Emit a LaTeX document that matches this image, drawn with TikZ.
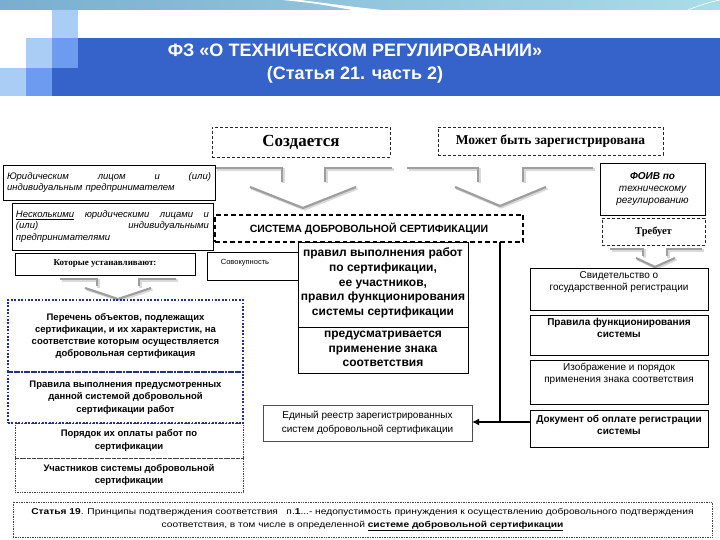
\documentclass[tikz,border=0pt]{standalone}
\usepackage{fontspec}
\setmainfont{Liberation Serif}
\setsansfont{Liberation Sans}
\newfontfamily\wsans[FakeStretch=1.2]{Liberation Sans}
\usetikzlibrary{arrows.meta}
\definecolor{hdrA}{HTML}{79AED0}
\definecolor{hdrB}{HTML}{A9DDE8}
\definecolor{barc}{HTML}{3563C9}
\definecolor{sqL}{HTML}{A9CDF5}
\definecolor{sqM}{HTML}{6C9BEF}
\definecolor{navyc}{HTML}{23308A}
\newcommand\fs[2]{\fontsize{#1}{#2}\selectfont}
\begin{document}
\begin{tikzpicture}[x=1pt,y=-1pt,
  every node/.style={inner sep=0pt, outer sep=0pt},
  nw/.style={anchor=north west, align=center},
  sbox/.style={nw, draw=black, line width=0.9pt, fill=white},
  dbox/.style={nw, draw=black!85, dash pattern=on 3pt off 2pt, line width=0.9pt},
  sysbox/.style={nw, draw=black, dash pattern=on 4.5pt off 3pt, line width=1.7pt},
  navybox/.style={nw, draw=navyc, dash pattern=on 1.8pt off 1.6pt, line width=2pt},
  thindot/.style={nw, draw=black!75, dash pattern=on 0.8pt off 0.9pt, line width=0.6pt},
  chev/.style={draw=black!38, line width=2.2pt},
  chevs/.style={draw=black!15, line width=2.2pt},
  conn/.style={draw=black, line width=2.4pt},
  sans/.style={font=\sffamily\fs{10}{12}},
]
\useasboundingbox (0,0) rectangle (720,540);
\fill[white] (0,0) rectangle (720,540);

% ---------- header ----------
\shade[left color=hdrA, right color=hdrB] (0,0) rectangle (720,10);
\fill[white] (300,0) .. controls (325,3) and (345,6) .. (382,10) -- (352,10) .. controls (330,6) and (315,3) .. (282,0) -- cycle;
\draw[white, line width=0.6pt] (688,10) .. controls (700,5) and (710,2) .. (720,0);
\fill[barc] (52,38) rectangle (720,96);
\fill[sqL] (52,10) rectangle (78,38);
\fill[sqL] (26,38) rectangle (52,68);
\fill[sqM] (52,38) rectangle (78,68);
\fill[sqL] (0,68) rectangle (26,96);
\fill[sqM] (26,68) rectangle (52,96);
\node[font=\sffamily\bfseries\fs{18}{23}, text=white, align=center] (title) at (355,64)
  {ФЗ «О ТЕХНИЧЕСКОМ РЕГУЛИРОВАНИИ»\\(Статья 21. часть 2)};

% ---------- chevrons ----------
\begin{scope}[shift={(1.5,1.5)}]
\draw[chevs] (215,168) -- (282,168) -- (282,182);
\draw[chevs] (325,182) -- (325,168) -- (392,168);
\draw[chevs] (250,187) -- (303,208) -- (356,187);
\draw[chevs] (407,168) -- (478,168) -- (478,182);
\draw[chevs] (523,182) -- (523,168) -- (593,168);
\draw[chevs] (455,187) -- (500,206) -- (546,187);
\draw[chevs] (610,249) -- (643,249) -- (643,256);
\draw[chevs] (667,256) -- (667,249) -- (702,249);
\draw[chevs] (636,258) -- (655,267) -- (675,258);
\draw[chevs] (60,279) -- (97,279) -- (97,286);
\draw[chevs] (139,286) -- (139,279) -- (176,279);
\draw[chevs] (85,288) -- (118,299) -- (151,288);
\end{scope}
\draw[chev] (215,168) -- (282,168) -- (282,182);
\draw[chev] (325,182) -- (325,168) -- (392,168);
\draw[chev] (250,187) -- (303,208) -- (356,187);
\draw[chev] (407,168) -- (478,168) -- (478,182);
\draw[chev] (523,182) -- (523,168) -- (593,168);
\draw[chev] (455,187) -- (500,206) -- (546,187);
\draw[chev] (610,249) -- (643,249) -- (643,256);
\draw[chev] (667,256) -- (667,249) -- (702,249);
\draw[chev] (636,258) -- (655,267) -- (675,258);
\draw[chev] (60,279) -- (97,279) -- (97,286);
\draw[chev] (139,286) -- (139,279) -- (176,279);
\draw[chev] (85,288) -- (118,299) -- (151,288);

% ---------- top boxes ----------
\node[dbox, minimum width=178, minimum height=30, font=\bfseries\fs{17}{20}] (create) at (212,127) {Создается};
\node[dbox, minimum width=225, minimum height=28, font=\bfseries\fs{13.5}{16}] (mayreg) at (438,127) {Может быть зарегистрирована};

% ---------- left upper ----------
\node[sbox, minimum width=212, minimum height=35, text width=204, inner xsep=4pt, align=left,
  font=\sffamily\itshape\fs{9.5}{11.5}] (legal) at (3,165)
  {Юридическим\hfill лицом\hfill и\hfill (или)\\индивидуальным предпринимателем};
\node[sbox, minimum width=201, minimum height=47, text width=193, inner xsep=4pt, align=left,
  font=\sffamily\itshape\fs{9.5}{11.5}] (several) at (12,203)
  {\underline{Несколькими}\hfill юридическими\hfill лицами\hfill и\\(или)\hfill индивидуальными\\предпринимателями};
\node[sbox, minimum width=180, minimum height=22, font=\bfseries\fs{9}{10}] (which) at (15,253) {Которые устанавливают:};

% ---------- system ----------
\node[sysbox, minimum width=308, minimum height=27, font=\sffamily\bfseries\fs{10.5}{12}] (sys) at (215,215)
  {СИСТЕМА ДОБРОВОЛЬНОЙ СЕРТИФИКАЦИИ};
\node[sbox, line width=0.7pt, minimum width=93, minimum height=28] (total) at (207,252) {};
\node[font=\sffamily\fs{7.5}{9}] (totalt) at (245,263) {Совокупность};
\node[sbox, minimum width=170, minimum height=131] (big) at (298,242) {};
\draw[black, line width=0.9pt] (big.west |- 0,327) -- (big.east |- 0,327);
\node[font=\sffamily\bfseries\fs{12}{14.7}, align=center] (bigt) at (383,283)
  {правил выполнения работ\\по сертификации,\\ее участников,\\правил функционирования\\системы сертификации};
\node[font=\sffamily\bfseries\fs{12}{14.5}, align=center] (bigb) at (383,349)
  {предусматривается\\применение знака\\соответствия};

% ---------- left lower ----------
\node[thindot, minimum width=228, minimum height=35, font=\sffamily\bfseries\fs{9.5}{12.5}] (pay) at (15,423)
  {Порядок их оплаты работ по\\сертификации};
\node[thindot, minimum width=228, minimum height=34, font=\sffamily\bfseries\fs{9.5}{12.5}] (parts) at (15,458)
  {Участников системы добровольной\\сертификации};
\node[navybox, minimum width=235, minimum height=72, font=\sffamily\bfseries\fs{9.5}{12}] (list) at (8,300)
  {Перечень объектов, подлежащих\\сертификации, и их характеристик, на\\соответствие которым осуществляется\\добровольная сертификация};
\node[navybox, minimum width=235, minimum height=51, font=\sffamily\bfseries\fs{9.5}{12.5}] (rulesw) at (8,372)
  {Правила выполнения предусмотренных\\данной системой добровольной\\сертификации работ};

% ---------- right column ----------
\node[sbox, minimum width=105, minimum height=52, font=\sffamily\itshape\fs{10}{12}] (foiv) at (600,163)
  {\textbf{ФОИВ по}\\техническому\\регулированию};
\node[dbox, minimum width=103, minimum height=27, font=\bfseries\fs{10.5}{12}] (req) at (602,218) {Требует};
\node[sbox, minimum width=178, minimum height=42] (cert) at (530,268) {};
\node[sans, anchor=north, align=center] (certt) at ([yshift=-4pt]cert.north) {Свидетельство о\\государственной регистрации};
\node[sbox, minimum width=178, minimum height=40] (rules) at (530,315) {};
\node[sans, font=\sffamily\bfseries\fs{10}{12.5}, anchor=north, align=center] (rulest) at ([yshift=-3pt]rules.north) {Правила функционирования\\системы};
\node[sbox, minimum width=178, minimum height=44] (img) at (530,360) {};
\node[sans, anchor=north, align=center] (imgt) at ([yshift=-3pt]img.north) {Изображение и порядок\\применения знака соответствия};
\node[sbox, minimum width=178, minimum height=37] (doc) at (530,410) {};
\node[sans, font=\sffamily\bfseries\fs{10}{12.5}, anchor=north, align=center] (doct) at ([yshift=-5pt]doc.north) {Документ об оплате регистрации\\системы};

% ---------- registry ----------
\node[sbox, draw=black!70, line width=0.8pt, minimum width=209, minimum height=36, font=\sffamily\fs{10}{13.5}] (reg) at (263,405)
  {Единый реестр зарегистрированных\\систем добровольной сертификации};

% ---------- connectors ----------
\coordinate (jn) at (500,422);
\draw[conn] (sys.south -| jn) -- (jn);
\draw[conn, -{Latex[length=7pt,width=7pt]}] (doc.west |- jn) -- (reg.east |- jn);

% ---------- bottom ----------
\node[thindot, minimum width=699, minimum height=35, font=\wsans\fs{8.5}{13}] (art) at (13,502)
  {\textbf{Статья 19}. Принципы подтверждения соответствия\ \ \ п.\textbf{1}...- недопустимость принуждения к осуществлению добровольного подтверждения\\
   соответствия, в том числе в определенной \underline{\textbf{системе добровольной сертификации}}};
\end{tikzpicture}
\end{document}
